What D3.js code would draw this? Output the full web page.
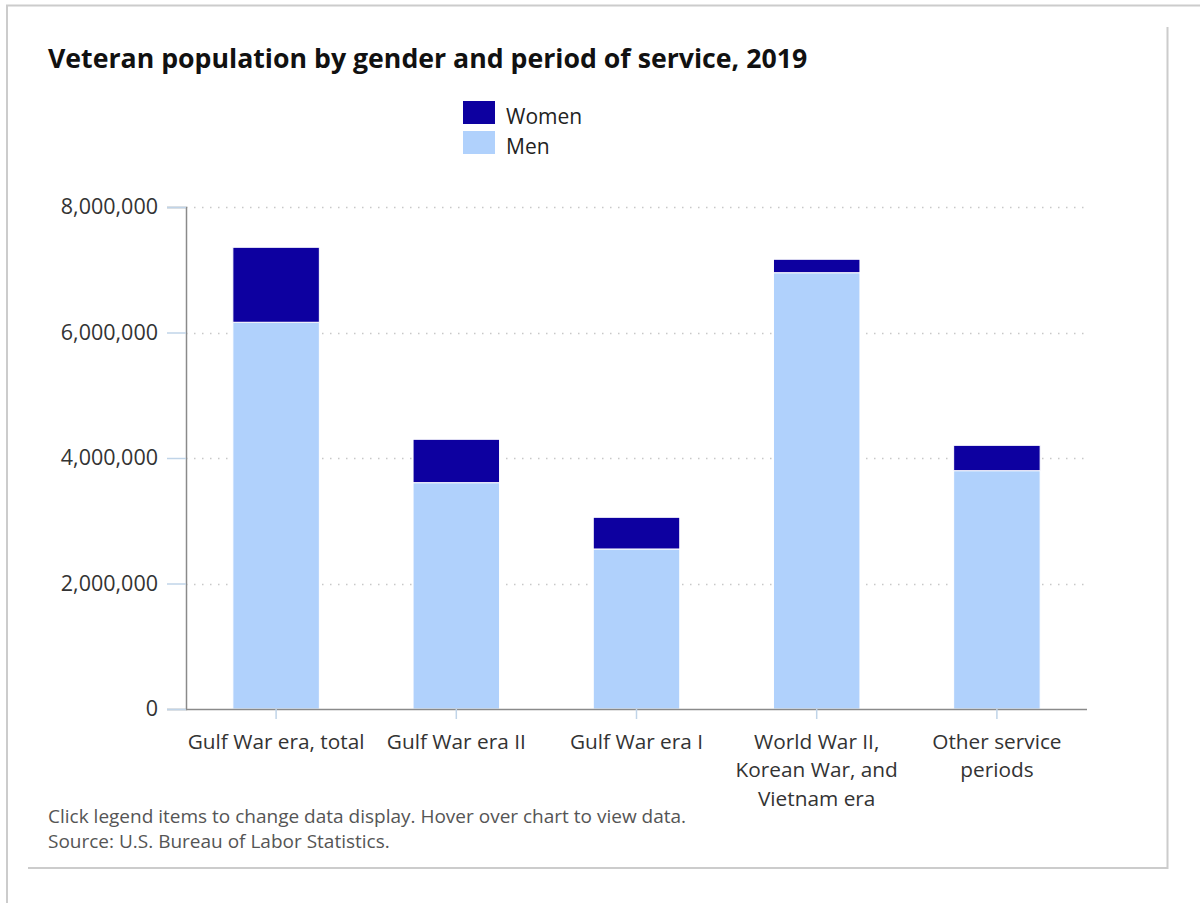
<!DOCTYPE html>
<html>
<head>
<meta charset="utf-8">
<script src="https://cdnjs.cloudflare.com/ajax/libs/d3/7.8.5/d3.min.js"></script>
<style>
  html, body { margin: 0; padding: 0; background: #fff; }
  svg { display: block; }
  text { font-family: "Open Sans", "Noto Sans", sans-serif; }
</style>
</head>
<body>
<svg id="chart" width="1200" height="903"></svg>
<script>
// Veteran population, 2019, by period of service
const categories = [
  ["Gulf War era, total"],
  ["Gulf War era II"],
  ["Gulf War era I"],
  ["World War II,", "Korean War, and", "Vietnam era"],
  ["Other service", "periods"]
];
const men   = [6163000, 3607000, 2550000, 6953000, 3798000];
const women = [1195000,  691000,  505000,  214000,  404000];
const seriesNames = ["Women", "Men"];
const yTicks = [0, 2000000, 4000000, 6000000, 8000000];

const svg = d3.select("#chart");

// page frame
const frame = svg.append("g").attr("stroke", "#cccccc").attr("stroke-width", 2).attr("fill", "none");
frame.append("line").attr("x1", 6).attr("x2", 1200).attr("y1", 5.5).attr("y2", 5.5);
frame.append("line").attr("x1", 7).attr("x2", 7).attr("y1", 5).attr("y2", 903);
frame.append("line").attr("x1", 1167.5).attr("x2", 1167.5).attr("y1", 27).attr("y2", 869);
frame.append("line").attr("x1", 28).attr("x2", 1168).attr("y1", 868).attr("y2", 868);

const margin = { left: 186, right: 1087, top: 207, bottom: 709 };

const x = d3.scaleBand()
  .domain(d3.range(categories.length))
  .range([margin.left, margin.right])
  .paddingInner(0.52)
  .paddingOuter(0.26);

const y = d3.scaleLinear()
  .domain([0, 8000000])
  .range([margin.bottom, margin.top]);

// title
svg.append("text")
  .attr("x", 48).attr("y", 68)
  .attr("font-size", 26.7).attr("font-weight", "bold").attr("fill", "#111")
  .text("Veteran population by gender and period of service, 2019");

// legend
const colors = { Women: "#0d00a0", Men: "#b0d1fc" };
const legend = svg.append("g");
seriesNames.forEach((name, i) => {
  const gy = 101 + i * 30;
  legend.append("rect")
    .attr("x", 463).attr("y", gy).attr("width", 32).attr("height", 23)
    .attr("fill", colors[name]);
  legend.append("text")
    .attr("x", 506).attr("y", gy + 22.5)
    .attr("font-size", 21).attr("fill", "#222")
    .text(name);
});

// gridlines
const grid = svg.append("g");
grid.selectAll("line").data(yTicks.filter(d => d > 0)).join("line")
  .attr("x1", margin.left).attr("x2", margin.right)
  .attr("y1", d => Math.round(y(d)) + 0.5).attr("y2", d => Math.round(y(d)) + 0.5)
  .attr("stroke", "#c8c8c8").attr("stroke-width", 1.5)
  .attr("stroke-dasharray", "1.5,6.5");

// y axis
const yAxis = d3.axisLeft(y)
  .tickValues(yTicks)
  .tickFormat(d3.format(","))
  .tickSize(19)
  .tickPadding(9);
const gy = svg.append("g").attr("transform", `translate(${margin.left},0)`).call(yAxis);
gy.select(".domain").attr("stroke", "#8a8a8a").attr("stroke-width", 1.5);
gy.selectAll(".tick line").attr("stroke", "#c0d4e8").attr("stroke-width", 1.5);
gy.selectAll(".tick text").attr("font-size", 21.5).attr("fill", "#333")
  .attr("font-family", "'Open Sans', 'Noto Sans', sans-serif");

// stacked bars
const stackData = categories.map((c, i) => ({ i, Men: men[i], Women: women[i] }));
const stack = d3.stack().keys(["Men", "Women"])(stackData);
svg.append("g").selectAll("g").data(stack).join("g")
  .attr("fill", s => colors[s.key])
  .selectAll("rect").data(s => s).join("rect")
  .attr("x", d => x(d.data.i))
  .attr("width", x.bandwidth())
  .attr("y", d => y(d[1]))
  .attr("height", d => y(d[0]) - y(d[1]))
  .attr("stroke", "#ffffff").attr("stroke-width", 1);

// x axis
const xAxis = d3.axisBottom(x).tickSize(10).tickFormat("");
const gx = svg.append("g").attr("transform", `translate(0,${margin.bottom})`).call(xAxis);
gx.select(".domain").attr("stroke", "#8a8a8a").attr("stroke-width", 1.5)
  .attr("d", `M${margin.left},0.5H${margin.right}`);
gx.selectAll(".tick line").attr("stroke", "#c0d4e8").attr("stroke-width", 1.5);

// category labels
const lbl = svg.append("g");
categories.forEach((lines, i) => {
  const t = lbl.append("text")
    .attr("text-anchor", "middle")
    .attr("font-size", 20.8).attr("fill", "#333");
  lines.forEach((ln, k) => {
    t.append("tspan")
      .attr("x", x(i) + x.bandwidth() / 2)
      .attr("y", 749 + k * 28.3)
      .text(ln);
  });
});

// notes
svg.append("text").attr("x", 48).attr("y", 823)
  .attr("font-size", 19).attr("fill", "#555")
  .text("Click legend items to change data display. Hover over chart to view data.");
svg.append("text").attr("x", 48).attr("y", 848)
  .attr("font-size", 19).attr("fill", "#555")
  .text("Source: U.S. Bureau of Labor Statistics.");
</script>
</body>
</html>
